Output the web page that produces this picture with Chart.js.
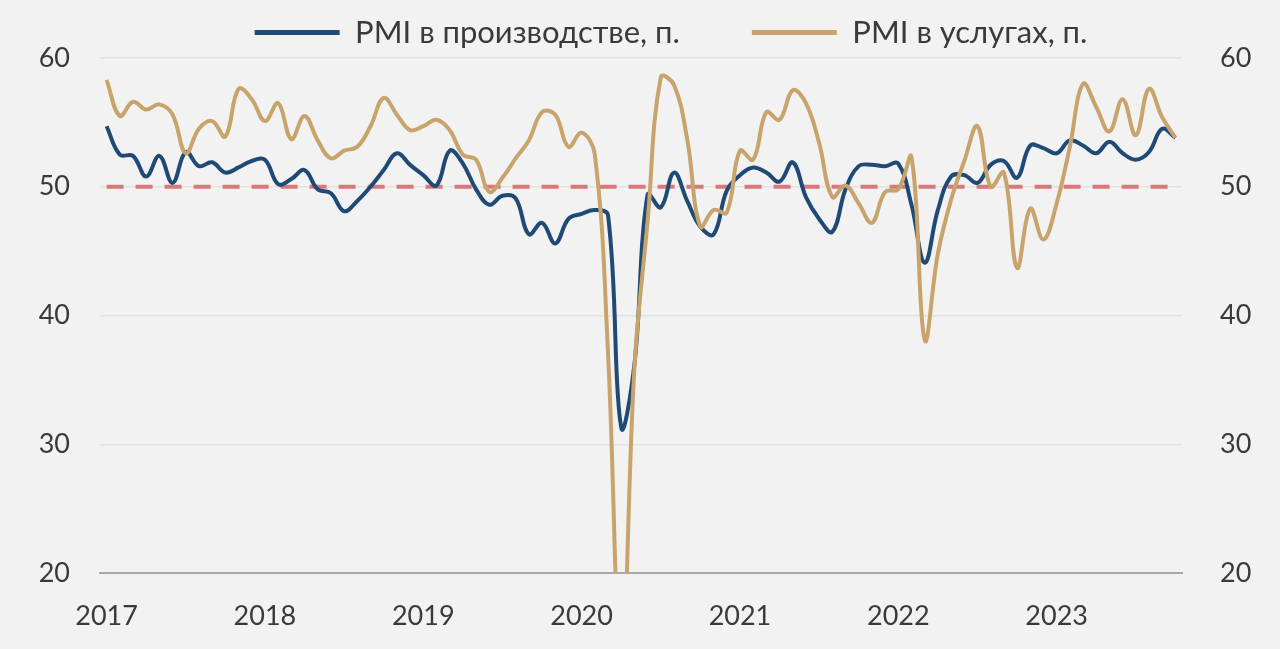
<!DOCTYPE html>
<html>
<head>
<meta charset="utf-8">
<script src="https://cdn.jsdelivr.net/npm/chart.js@4/dist/chart.umd.min.js"></script>
<style>
  html, body { margin: 0; padding: 0; background: #f2f2f2; }
  #wrap { width: 1280px; height: 649px; }
</style>
</head>
<body>
<div id="wrap"><canvas id="pmi"></canvas></div>
<script>
// monthly, Jan 2017 .. Oct 2023
const months = [];
for (let y = 2017; y <= 2023; y++) {
  for (let m = 1; m <= 12; m++) {
    if (y === 2023 && m > 10) break;
    months.push(y + '-' + String(m).padStart(2, '0'));
  }
}

const manufacturing = [
  54.7, 52.5, 52.4, 50.8, 52.4, 50.3, 52.7, 51.6, 51.9, 51.1, 51.5, 52.0,
  52.1, 50.2, 50.6, 51.3, 49.8, 49.5, 48.1, 48.9, 50.0, 51.3, 52.6, 51.7,
  50.9, 50.1, 52.8, 51.8, 49.8, 48.6, 49.3, 49.1, 46.3, 47.2, 45.6, 47.5,
  47.9, 48.2, 47.8, 31.3, 36.2, 49.4, 48.4, 51.1, 48.9, 46.9, 46.3, 49.7,
  50.9, 51.5, 51.1, 50.4, 51.9, 49.2, 47.5, 46.5, 49.8, 51.6, 51.7, 51.6,
  51.8, 48.6, 44.1, 48.2, 50.8, 50.9, 50.3, 51.7, 52.0, 50.7, 53.2, 53.0,
  52.6, 53.6, 53.2, 52.6, 53.5, 52.6, 52.1, 52.7, 54.5, 53.8
];

const services = [
  58.3, 55.5, 56.6, 56.0, 56.4, 55.6, 52.6, 54.5, 55.1, 53.9, 57.6, 56.8,
  55.1, 56.5, 53.7, 55.5, 53.6, 52.2, 52.8, 53.1, 54.7, 56.9, 55.6, 54.4,
  54.7, 55.2, 54.4, 52.5, 52.1, 49.6, 50.7, 52.2, 53.6, 55.8, 55.6, 53.1,
  54.2, 52.5, 37.1, 12.2, 35.9, 47.3, 58.5, 57.9, 53.7, 46.9, 48.2, 48.0,
  52.8, 52.1, 55.8, 55.2, 57.5, 56.5, 53.4, 49.2, 50.1, 48.7, 47.2, 49.6,
  49.8, 52.3, 38.1, 44.8, 49.0, 52.0, 54.7, 50.0, 51.1, 43.7, 48.3, 45.9,
  48.7, 53.1, 58.0, 56.2, 54.3, 56.8, 54.0, 57.6, 55.4, 53.8
];

const threshold = 50;
const yTicks = [20, 30, 40, 50, 60];

const seriesNames = ['PMI в производстве, п.', 'PMI в услугах, п.'];
const colors = { manuf: '#1f4a76', serv: '#c8a46c', line: '#d9777b', grid: '#e2e2e2', axis: '#a8a8a8', text: '#3a3a3a' };
const FONT = 'Lato, "Noto Sans", sans-serif';

const yAxisBase = {
  min: yTicks[0],
  max: yTicks[yTicks.length - 1],
  grid: { color: colors.grid, lineWidth: 1.5, drawTicks: false },
  border: { display: false },
  ticks: { stepSize: 10, padding: 30, color: colors.text, font: { family: FONT, size: 27 } }
};

// the legend row in the source sits a bit right of centre
const legendShift = {
  id: 'legendShift',
  afterLayout(chart) {
    const lg = chart.legend;
    if (lg) { lg.left += 31; lg.right += 31; }
  }
};

new Chart(document.getElementById('pmi'), {
  type: 'line',
  data: {
    labels: months,
    datasets: [
      {
        label: seriesNames[0] + '\u2003\u2003\u2002',
        data: manufacturing,
        borderColor: colors.manuf,
        backgroundColor: colors.manuf,
        borderWidth: 4,
        pointRadius: 0,
        tension: 0.4,
        order: 2
      },
      {
        label: seriesNames[1],
        data: services,
        borderColor: colors.serv,
        backgroundColor: colors.serv,
        borderWidth: 4,
        pointRadius: 0,
        tension: 0.4,
        order: 1
      },
      {
        label: '',
        data: months.map(() => threshold),
        borderColor: colors.line,
        borderWidth: 4,
        borderDash: [17, 12],
        pointRadius: 0,
        order: 3
      }
    ]
  },
  plugins: [legendShift],
  options: {
    responsive: true,
    maintainAspectRatio: false,
    animation: false,
    layout: { padding: { left: 0, right: 0, top: 7, bottom: 0 } },
    plugins: {
      tooltip: { enabled: false },
      legend: {
        position: 'top',
        labels: {
          boxWidth: 85,
          boxHeight: 5,
          padding: 10,
          color: colors.text,
          font: { family: FONT, size: 31 },
          filter: (item) => item.text !== '',
          sort: (a, b) => a.datasetIndex - b.datasetIndex,
          generateLabels: (chart) =>
            Chart.defaults.plugins.legend.labels.generateLabels(chart).map(l => ({ ...l, lineWidth: 0 }))
        }
      }
    },
    scales: {
      x: {
        offset: true,
        grid: { display: false, drawTicks: false },
        border: { display: true, color: colors.axis, width: 2 },
        ticks: {
          autoSkip: false,
          maxRotation: 0,
          padding: 27,
          color: colors.text,
          font: { family: FONT, size: 27 },
          callback: function (val) {
            const lbl = this.getLabelForValue(val);
            return lbl.endsWith('-01') ? lbl.slice(0, 4) : null;
          }
        },
        afterFit: (s) => { s.height = 76; }
      },
      y: { ...yAxisBase, position: 'left', afterFit: (s) => { s.width = 100; } },
      y2: { ...yAxisBase, position: 'right', grid: { display: false }, afterFit: (s) => { s.width = 98; } }
    }
  }
});
</script>
</body>
</html>
